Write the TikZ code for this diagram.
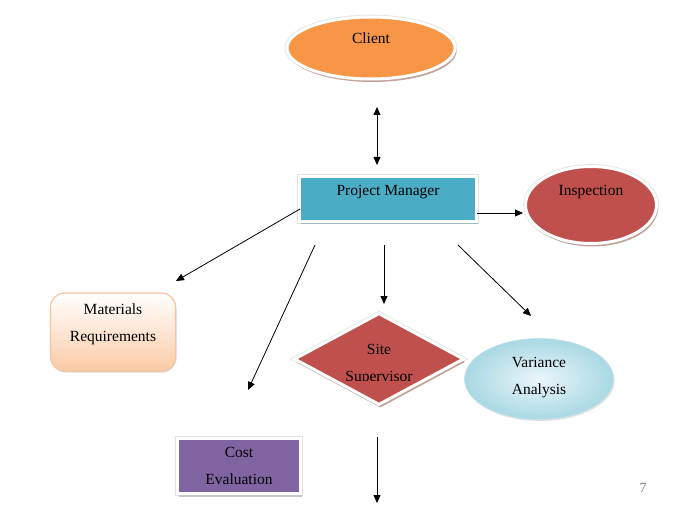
\documentclass[tikz,border=0pt]{standalone}
\usepackage{fontspec}
\setmainfont{Liberation Serif}
\usetikzlibrary{shapes.geometric,arrows.meta,shadows}
\definecolor{cOrange}{HTML}{F79646}
\definecolor{cBlue}{HTML}{4BACC6}
\definecolor{cRed}{HTML}{C0504D}
\definecolor{cPurple}{HTML}{8064A2}
\definecolor{cPeach}{HTML}{FBCBA6}
\definecolor{cPeachLine}{HTML}{F9C49C}
\definecolor{cIce}{HTML}{DDF0F5}
\definecolor{cIceDark}{HTML}{A9D8E4}
\definecolor{cShadowR}{HTML}{C2A39A}
\definecolor{cShadowB}{HTML}{9FB8C0}
\definecolor{cEdge}{HTML}{E2E2E2}
\tikzset{
  x=1pt, y=-1pt,
  txt/.style={font=\fontsize{15.5}{27}\selectfont, align=center, text=black},
  boxed/.style={draw=white, line width=3pt, inner sep=0pt, preaction={draw=cEdge, line width=4.6pt}},
  shad/.style={drop shadow={shadow xshift=1.5pt, shadow yshift=-3pt, fill=#1, opacity=1}},
  arr/.style={-{Triangle[length=8pt,width=7pt]}, line width=0.8pt, black},
  darr/.style={{Triangle[length=8pt,width=7pt]}-{Triangle[length=8pt,width=7pt]}, line width=0.8pt, black},
}
\begin{document}
\begin{tikzpicture}
\useasboundingbox (0,0) rectangle (697,532);
\fill[white] (0,0) rectangle (697,532);

% Client
\node[ellipse, boxed, fill=cOrange, shad=cShadowR, minimum width=168pt, minimum height=62pt,
      label={[txt, yshift=10pt]center:Client}] (client) at (371,48) {};
% Project Manager
\node[rectangle, boxed, fill=cBlue, shad=cShadowB, minimum width=177pt, minimum height=45pt,
      label={[txt, yshift=7pt]center:Project Manager}] (pm) at (388,199) {};
% Inspection
\node[ellipse, boxed, fill=cRed, shad=cShadowR, minimum width=131pt, minimum height=77pt,
      label={[txt, yshift=13pt]center:Inspection}] (insp) at (591,205) {};
% Materials Requirements
\node[rectangle, rounded corners=14pt, draw=cPeachLine, line width=1.2pt, top color=white, bottom color=cPeach,
      drop shadow={shadow xshift=1pt, shadow yshift=-1.5pt, fill=gray!30, opacity=1},
      minimum width=125pt, minimum height=78pt, inner sep=0pt,
      label={[txt, yshift=7.5pt]center:Materials\\Requirements}] (mat) at (113,332) {};
% Cost Evaluation
\node[rectangle, boxed, fill=cPurple, shad=gray!45, minimum width=123pt, minimum height=55pt,
      label={[txt]center:Cost\\Evaluation}] (cost) at (239,466) {};
% Site Supervisor
\node[diamond, boxed, fill=cRed, shad=cShadowR, minimum width=170pt, minimum height=92pt] (site) at (379,359) {};
\begin{scope}
  \clip (290,300) rectangle (470,380.5);
  \node[txt] (sitetext) at (379,365) {Site\\Supervisor};
\end{scope}
% Variance Analysis
\node[ellipse, draw=cIceDark!70, line width=0.6pt, inner color=cIce!60, outer color=cIceDark,
      drop shadow={shadow xshift=1pt, shadow yshift=-1.5pt, fill=gray!25, opacity=1},
      minimum width=149pt, minimum height=81pt, inner sep=0pt,
      label={[txt, yshift=1.5pt]center:Variance\\Analysis}] (var) at (539,379) {};

% page number
\node[font=\fontsize{14}{16}\selectfont, text=gray] (pnum) at (643,488) {7};

% connector end points
\coordinate (c1) at (377,107);
\coordinate (c2) at (377,165);
\coordinate (p0) at (300,209);
\coordinate (p1) at (315,245);
\coordinate (p2) at (384,245);
\coordinate (p3) at (458,245);
\coordinate (p4) at (477,213);
\coordinate (m1) at (176,281);
\coordinate (k1) at (248,390);
\coordinate (s1) at (384,304);
\coordinate (v1) at (531,316);
\coordinate (i1) at (523,213);
\coordinate (b0) at (377,437);
\coordinate (b1) at (377,503);

\draw[darr] (c1) -- (c2);
\draw[arr] (p4) -- (i1);
\draw[arr] (p0) -- (m1);
\draw[arr] (p1) -- (k1);
\draw[arr] (p2) -- (s1);
\draw[arr] (p3) -- (v1);
\draw[arr] (b0) -- (b1);
\end{tikzpicture}
\end{document}
